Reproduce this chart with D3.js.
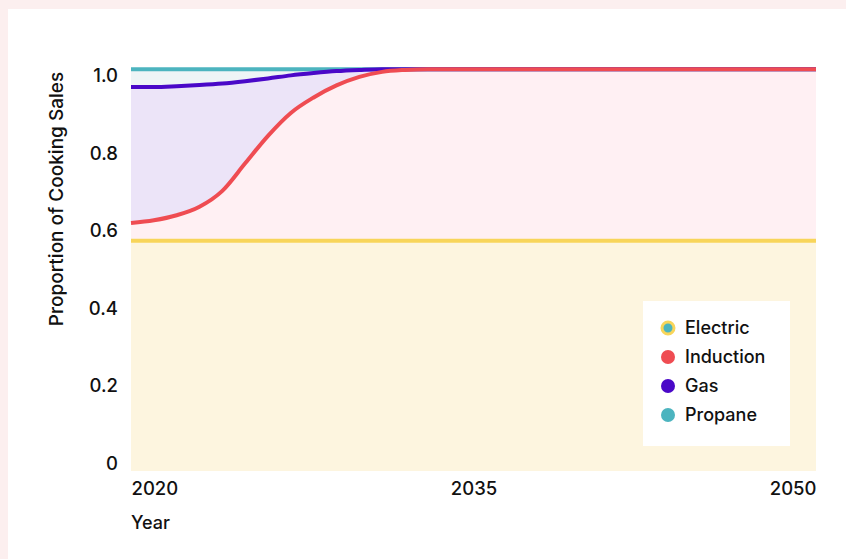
<!DOCTYPE html>
<meta charset="utf-8" />

<style>
  body {
    margin: 0;
    background-color: #fcefef;
    font-family: Inter, "Noto Sans", sans-serif;
  }

  .card {
    position: absolute;
    left: 8px;
    top: 9px;
    width: 860px;
    height: 570px;
    background-color: #fff;
  }

  svg {
    position: absolute;
    left: 0;
    top: 0;
  }
</style>

<script src="https://d3js.org/d3.v7.min.js"></script>

<div class="card"></div>
<svg id="chart" width="846" height="559"></svg>

<script>
  // Years, one row per year
  const years = d3.range(2020, 2051);

  // Cumulative tops (2020..2050)
  const electricTop = years.map(() => 0.574);
  const inductionTop = [0.620, 0.627, 0.640, 0.662, 0.703, 0.774, 0.845, 0.904, 0.944, 0.975,
    0.997, 1.010, 1.015, 1.017, 1.017, 1.017, 1.017, 1.017, 1.017, 1.017,
    1.017, 1.017, 1.017, 1.017, 1.017, 1.017, 1.017, 1.017, 1.017, 1.017, 1.017];
  const gasTop = [0.971, 0.971, 0.973, 0.976, 0.980, 0.986, 0.993, 1.001, 1.007, 1.012,
    1.015, 1.017, 1.017, 1.017, 1.017, 1.017, 1.017, 1.017, 1.017, 1.017,
    1.017, 1.017, 1.017, 1.017, 1.017, 1.017, 1.017, 1.017, 1.017, 1.017, 1.017];
  const propaneTop = years.map(() => 1.017);

  const seriesNames = ['Electric', 'Induction', 'Gas', 'Propane'];
  const lineColors = ['#f8d55a', '#ef4c52', '#4a08c8', '#4cb4bf'];
  const fillColors = ['#fdf5df', '#fff0f3', '#ece4f8', '#eef4f6'];
  const yTicks = [0, 0.2, 0.4, 0.6, 0.8, 1.0];
  const xTicks = [2020, 2035, 2050];

  // turn cumulative tops into shares per series
  const data = years.map((yr, i) => ({
    year: yr,
    Electric: electricTop[i],
    Induction: inductionTop[i] - electricTop[i],
    Gas: gasTop[i] - inductionTop[i],
    Propane: propaneTop[i] - gasTop[i]
  }));

  const svg = d3.select('#chart');
  const font = 'Inter, "Noto Sans", sans-serif';

  const x = d3.scaleLinear().domain([2020, 2050]).range([131, 816]);
  const y = d3.scaleLinear().domain([-0.02, 1.02]).range([471, 68]);

  const stacked = d3.stack().keys(seriesNames)(data);

  // bottom layer sits on the floor of the plot
  const area = d3.area()
    .x(d => x(d.data.year))
    .y0(d => d[0] === 0 ? y.range()[0] : y(d[0]))
    .y1(d => y(d[1]))
    .curve(d3.curveMonotoneX);

  const line = d3.line()
    .x(d => x(d.data.year))
    .y(d => y(d[1]))
    .curve(d3.curveMonotoneX);

  const g = svg.append('g');

  g.selectAll('path.area')
    .data(stacked)
    .enter()
    .append('path')
    .attr('class', 'area')
    .attr('fill', (d, i) => fillColors[i])
    .attr('d', area);

  // lines drawn top series first so induction sits above the others
  g.selectAll('path.line')
    .data(stacked.slice().reverse())
    .enter()
    .append('path')
    .attr('class', 'line')
    .attr('fill', 'none')
    .attr('stroke', d => lineColors[seriesNames.indexOf(d.key)])
    .attr('stroke-width', 4)
    .attr('d', line);

  // axes
  const yAxis = svg.append('g')
    .attr('transform', 'translate(118,0)')
    .call(d3.axisLeft(y).tickValues(yTicks).tickSize(0).tickPadding(0)
      .tickFormat(d => d === 0 ? '0' : d3.format('.1f')(d)));
  yAxis.select('.domain').remove();

  const xAxis = svg.append('g')
    .attr('transform', 'translate(0,482)')
    .call(d3.axisBottom(x).tickValues(xTicks).tickSize(0).tickPadding(0)
      .tickFormat(d3.format('d')));
  xAxis.select('.domain').remove();
  xAxis.selectAll('.tick text')
    .attr('text-anchor', (d, i) => i === 0 ? 'start' : i === xTicks.length - 1 ? 'end' : 'middle');

  svg.selectAll('.tick text')
    .attr('font-family', font)
    .attr('font-size', 18.5)
    .attr('font-weight', 500)
    .attr('fill', '#111');

  svg.append('text')
    .attr('x', 131)
    .attr('y', 529)
    .attr('font-family', font)
    .attr('font-size', 18)
    .attr('font-weight', 500)
    .attr('fill', '#111')
    .text('Year');

  svg.append('text')
    .attr('transform', 'translate(63,199) rotate(-90)')
    .attr('text-anchor', 'middle')
    .attr('font-family', font)
    .attr('font-size', 19)
    .attr('font-weight', 500)
    .attr('fill', '#111')
    .text('Proportion of Cooking Sales');

  // legend
  const legend = svg.append('g').attr('transform', 'translate(643,301)');
  legend.append('rect')
    .attr('width', 147)
    .attr('height', 145)
    .attr('fill', '#fff');

  const items = legend.selectAll('g.item')
    .data(seriesNames)
    .enter()
    .append('g')
    .attr('class', 'item')
    .attr('transform', (d, i) => `translate(25,${27 + i * 29})`);

  items.append('circle')
    .attr('r', (d, i) => i === 0 ? 6 : 7)
    .attr('fill', (d, i) => i === 0 ? lineColors[3] : lineColors[i])
    .attr('stroke', (d, i) => i === 0 ? lineColors[0] : 'none')
    .attr('stroke-width', 3);

  items.append('text')
    .attr('x', 17)
    .attr('dy', '0.35em')
    .attr('font-family', font)
    .attr('font-size', 18)
    .attr('font-weight', 500)
    .attr('fill', '#111')
    .text(d => d);
</script>
